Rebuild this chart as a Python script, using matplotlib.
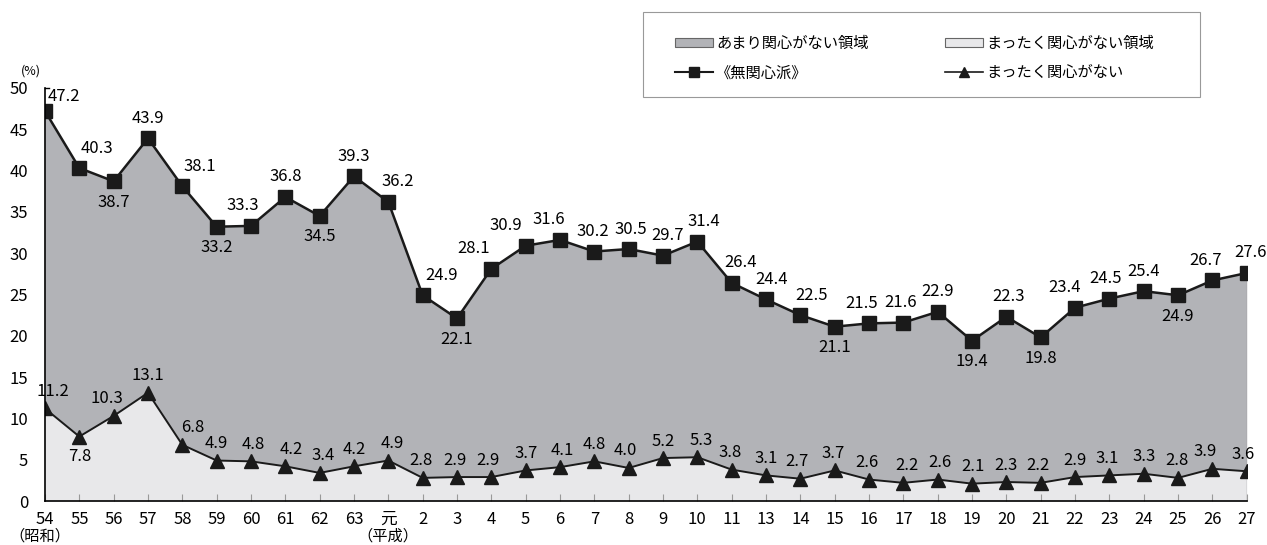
import numpy as np
import matplotlib
matplotlib.use("Agg")
import matplotlib.pyplot as plt
from matplotlib.patches import Patch, Rectangle
from matplotlib.lines import Line2D

plt.rcParams['font.family'] = ['Noto Sans CJK JP', 'DejaVu Sans']

# data
years = ['54', '55', '56', '57', '58', '59', '60', '61', '62', '63', '元',
         '2', '3', '4', '5', '6', '7', '8', '9', '10', '11', '13', '14', '15',
         '16', '17', '18', '19', '20', '21', '22', '23', '24', '25', '26', '27']
mukanshin = [47.2, 40.3, 38.7, 43.9, 38.1, 33.2, 33.3, 36.8, 34.5, 39.3, 36.2,
             24.9, 22.1, 28.1, 30.9, 31.6, 30.2, 30.5, 29.7, 31.4, 26.4, 24.4,
             22.5, 21.1, 21.5, 21.6, 22.9, 19.4, 22.3, 19.8, 23.4, 24.5, 25.4,
             24.9, 26.7, 27.6]
mattaku = [11.2, 7.8, 10.3, 13.1, 6.8, 4.9, 4.8, 4.2, 3.4, 4.2, 4.9,
           2.8, 2.9, 2.9, 3.7, 4.1, 4.8, 4.0, 5.2, 5.3, 3.8, 3.1,
           2.7, 3.7, 2.6, 2.2, 2.6, 2.1, 2.3, 2.2, 2.9, 3.1, 3.3,
           2.8, 3.9, 3.6]

# label placement (pixels): 1 = above, -1 = below, plus sideways nudge
upper_pos = [1, 1, -1, 1, 1, -1, 1, 1, -1, 1, 1,
             1, -1, 1, 1, 1, 1, 1, 1, 1, 1, 1,
             1, -1, 1, 1, 1, -1, 1, -1, 1, 1, 1,
             -1, 1, 1]
upper_dx = [19, 18, 0, 0, 17, 0, -8, 0, 0, 0, 9,
            19, 0, -18, -20, -11, -2, 2, 5, 6, 9, 6,
            11, 0, -7, -3, 0, 0, 2, 0, -10, -4, 0,
            0, -7, 4]
lower_pos = [1, -1, 1, 1, 1, 1, 1, 1, 1, 1, 1,
             1, 1, 1, 1, 1, 1, 1, 1, 1, 1, 1,
             1, 1, 1, 1, 1, 1, 1, 1, 1, 1, 1,
             1, 1, 1]
lower_dx = [8, 0, -7, 0, 10, 0, 2, 6, 3, 0, 4,
            -2, -2, -3, 0, 2, 0, -3, 0, 4, -2, 0,
            -3, -2, -2, 4, 2, 1, 0, -3, 0, -2, 0,
            -1, -7, -4]

dark = '#b2b3b7'
light = '#e8e8ea'
px = 0.72  # points per pixel at dpi 100
W, H = 1267, 545
x = np.arange(len(years))

fig = plt.figure(figsize=(W / 100, H / 100), dpi=100)
ax = fig.add_axes([0.0355, 0.0807, 0.9485, 0.758])

ax.fill_between(x, mattaku, mukanshin, color=dark, lw=0)
ax.fill_between(x, 0, mattaku, color=light, lw=0)
ax.plot([x[-1], x[-1]], [0, mukanshin[-1]], color='#999999', lw=1)
ax.plot(x, mukanshin, color='#1a1a1a', lw=1.8, marker='s', ms=9.5)
ax.plot(x, mattaku, color='#1a1a1a', lw=1.4, marker='^', ms=9.5)

for i in range(len(x)):
    dy = 20 if upper_pos[i] > 0 else -21
    if i == 0:
        dy = 15
    ax.annotate('%.1f' % mukanshin[i], (x[i], mukanshin[i]),
                xytext=(upper_dx[i] * px, dy * px), textcoords='offset points',
                ha='center', va='center', fontsize=12)
    dy = 17 if lower_pos[i] > 0 else -20
    ax.annotate('%.1f' % mattaku[i], (x[i], mattaku[i]),
                xytext=(lower_dx[i] * px, dy * px), textcoords='offset points',
                ha='center', va='center', fontsize=12)

ax.set_xlim(0, len(x) - 1)
ax.set_ylim(0, 50)
ax.set_yticks(np.arange(0, 51, 5))
ax.tick_params(axis='y', length=0, labelsize=12, pad=12)
ax.set_xticks(x)
ax.set_xticklabels(years, fontsize=12)
ax.tick_params(axis='x', direction='in', length=5, color='#999999', pad=7)
for s in ['top', 'right']:
    ax.spines[s].set_visible(False)
ax.spines['left'].set_linewidth(1.2)
ax.spines['bottom'].set_linewidth(1.2)
ax.plot([0, 0.12], [50, 50], color='black', lw=1, clip_on=False)

ax.text(-0.004, -0.085, '（昭和）', transform=ax.transAxes, ha='center', va='center',
        fontsize=11)
ax.text(10 / 35, -0.085, '（平成）', transform=ax.transAxes, ha='center', va='center',
        fontsize=11)
ax.text(-0.02, 1.04, '(%)', transform=ax.transAxes, ha='left', va='center', fontsize=9)

# legend box drawn separately, legend itself without frame
fig.patches.append(Rectangle((643 / W, 1 - 97 / H), 557 / W, 85 / H,
                             transform=fig.transFigure, facecolor='white',
                             edgecolor='#999999', lw=0.8))
# fig.legend fills column by column
handles = [Patch(facecolor=dark, edgecolor='#666666', lw=0.8),
           Line2D([], [], color='#1a1a1a', lw=1.5, marker='s', ms=7),
           Patch(facecolor=light, edgecolor='#666666', lw=0.8),
           Line2D([], [], color='#1a1a1a', lw=1.2, marker='^', ms=7)]
labels = ['あまり関心がない領域', '《無関心派》', 'まったく関心がない領域', 'まったく関心がない']
leg = fig.legend(handles, labels, ncol=2, loc='upper left',
                 bbox_to_anchor=(675 / W, 1 - 35 / H),
                 prop={'size': 11}, frameon=False,
                 handlelength=2.5, handleheight=0.5, columnspacing=5.0,
                 labelspacing=0.8, borderpad=0, borderaxespad=0,
                 handletextpad=0.2)

fig.savefig('out.png', dpi=100)
